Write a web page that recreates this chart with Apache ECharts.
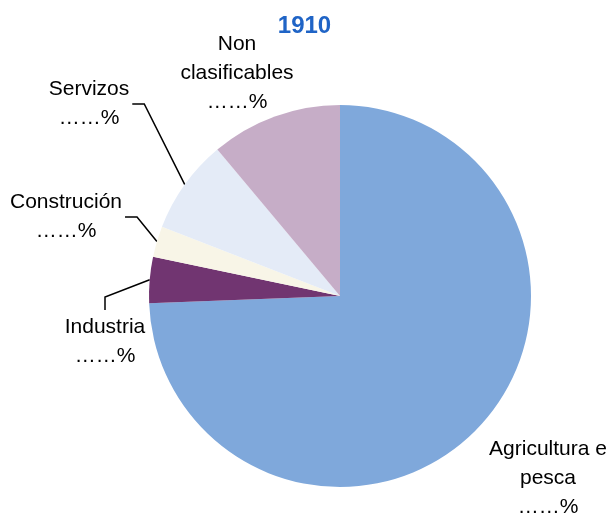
<!DOCTYPE html>
<html>
<head>
<meta charset="utf-8">
<script src="https://cdn.jsdelivr.net/npm/echarts@6/dist/echarts.min.js"></script>
<style>
  html, body { margin: 0; padding: 0; background: #fff; }
  #chart { width: 609px; height: 519px; }
</style>
</head>
<body>
<div id="chart"></div>
<script>
// sectores de actividade, 1910
const sectors = ['Agricultura e\npesca', 'Industria', 'Construción', 'Servizos', 'Non\nclasificables']
const shares = [74.4, 3.9, 2.6, 8.0, 11.1]
const valueLabel = '……%'
const colors = ['#7FA8DB', '#713571', '#F8F5E7', '#E4EBF7', '#C6ADC7']

// label centres and how the leader line joins each label
const labelPos = [[548, 478], [105, 342], [66, 217], [89, 104], [237, 73]]
const lineMode = ['none', 'top', 'right', 'right', 'none']

const center = [340, 296]
const radius = 191

const chart = echarts.init(document.getElementById('chart'))

// point on the rim at the middle of slice i (clockwise from 12 o'clock)
const rimPoint = (i) => {
  const total = shares.reduce((a, b) => a + b, 0)
  let before = 0
  for (let k = 0; k < i; k++) before += shares[k]
  const ang = ((before + shares[i] / 2) / total) * 2 * Math.PI
  return [center[0] + radius * Math.sin(ang), center[1] - radius * Math.cos(ang)]
}

const option = {
  animation: false,
  title: {
    text: '1910',
    left: 'center',
    top: 9,
    textStyle: {
      fontFamily: 'Liberation Sans',
      fontWeight: 'bold',
      fontSize: 24,
      color: '#1F64C6'
    }
  },
  series: [
    {
      type: 'pie',
      center: center,
      radius: radius,
      startAngle: 90,
      clockwise: true,
      avoidLabelOverlap: false,
      itemStyle: { borderWidth: 0 },
      label: {
        show: true,
        position: 'outside',
        formatter: '{b}\n' + valueLabel,
        fontFamily: 'Liberation Sans',
        fontSize: 21,
        lineHeight: 29,
        color: '#000',
        align: 'center'
      },
      labelLine: {
        show: true,
        length: 10,
        length2: 10,
        lineStyle: { color: '#000', width: 1.5 }
      },
      labelLayout: (params) => {
        const i = params.dataIndex
        const [x, y] = labelPos[i]
        const w = params.labelRect.width
        const h = params.labelRect.height
        const res = { x: x, y: y, align: 'center', verticalAlign: 'middle' }
        const start = rimPoint(i)
        if (lineMode[i] === 'right') {
          const end = [x + w / 2 + 3, y]
          res.labelLinePoints = [start, [end[0] + 12, y], end]
        } else if (lineMode[i] === 'top') {
          const end = [x, y - h / 2 - 3]
          res.labelLinePoints = [start, [x, end[1] - 13], end]
        }
        return res
      },
      data: sectors.map((name, i) => ({
        name: name,
        value: shares[i],
        itemStyle: { color: colors[i] },
        labelLine: { show: lineMode[i] !== 'none' }
      }))
    }
  ]
}

chart.setOption(option)
</script>
</body>
</html>
